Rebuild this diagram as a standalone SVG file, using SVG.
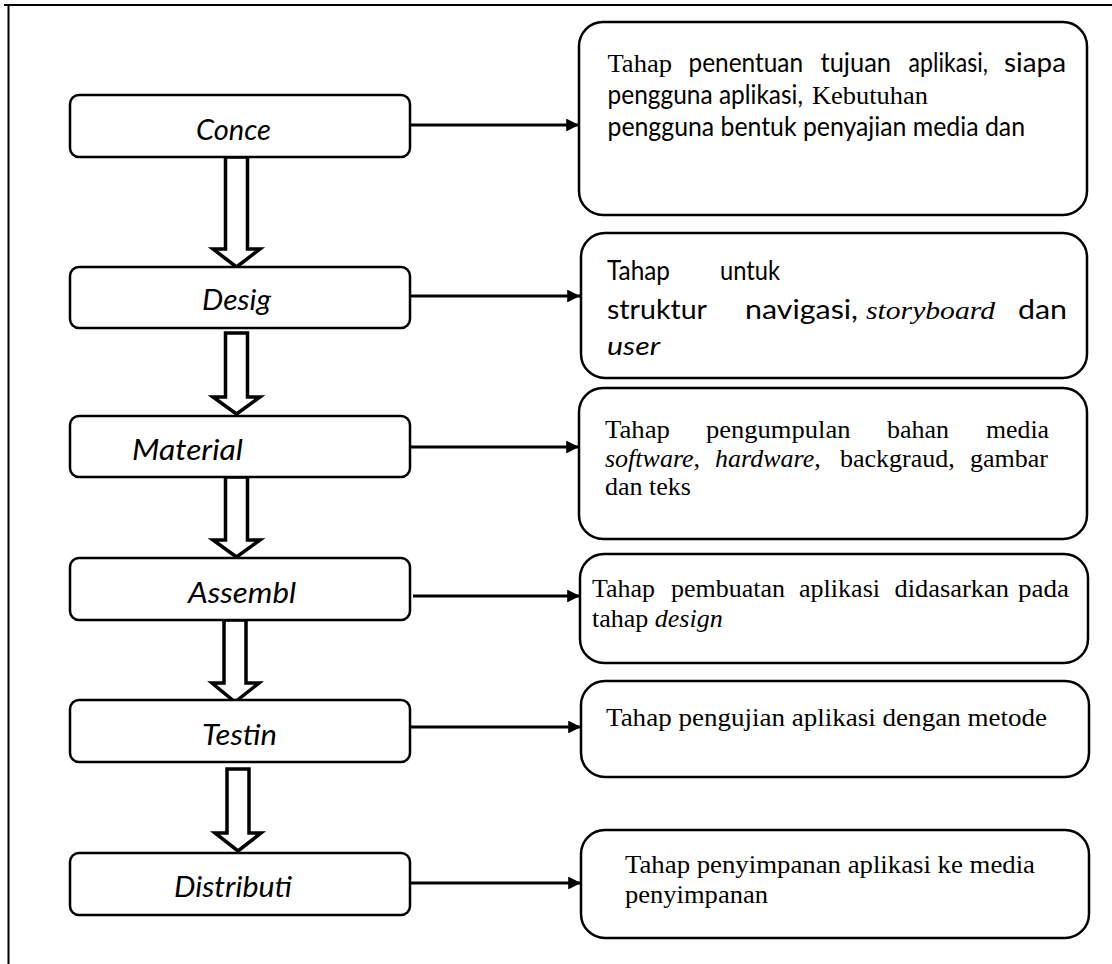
<svg xmlns="http://www.w3.org/2000/svg" width="1112" height="964" viewBox="0 0 1112 964">
<defs>
<style>
.frame{stroke:#000;stroke-width:2;fill:none}
.lbox{fill:#fff;stroke:#000;stroke-width:2.5}
.rbox{fill:#fff;stroke:#000;stroke-width:2.5}
.hollow{fill:#fff;stroke:#000;stroke-width:3.5;stroke-linejoin:miter}
.conn{stroke:#000;stroke-width:3.2;fill:none}
.lab{font-family:Lato,"Liberation Sans",sans-serif;font-style:italic;font-size:28px;fill:#000}
.sans{font-family:Lato,"Liberation Sans",sans-serif;font-size:26px;fill:#000}
.serif{font-family:"Liberation Serif","Times New Roman",serif;font-size:26px;fill:#000}
.it{font-style:italic}
</style>
<marker id="ah" viewBox="0 0 10 10" refX="10" refY="5" markerWidth="4" markerHeight="4" markerUnits="strokeWidth" orient="auto">
<path d="M0,0 L10,5 L0,10 z" fill="#000"/>
</marker>
</defs>
<rect width="1112" height="964" fill="#fff"/>
<g id="frame">
<line class="frame" x1="4" y1="5" x2="1112" y2="5"/>
<line class="frame" x1="8.5" y1="5" x2="8.5" y2="964"/>
</g>
<g id="connectors">
<line class="conn" x1="411" y1="125" x2="579" y2="125" marker-end="url(#ah)"/>
<line class="conn" x1="409" y1="296" x2="580" y2="296" marker-end="url(#ah)"/>
<line class="conn" x1="411" y1="447" x2="579" y2="447" marker-end="url(#ah)"/>
<line class="conn" x1="413" y1="596" x2="580" y2="596" marker-end="url(#ah)"/>
<line class="conn" x1="411" y1="727" x2="581" y2="727" marker-end="url(#ah)"/>
<line class="conn" x1="411" y1="883" x2="581" y2="883" marker-end="url(#ah)"/>
<polygon class="hollow" points="225.5,157 247.5,157 247.5,249 260,249 236.5,267 213,249 225.5,249"/>
<polygon class="hollow" points="225.5,333 247.5,333 247.5,397 260,397 236.5,414 213,397 225.5,397"/>
<polygon class="hollow" points="225.5,477 247.5,477 247.5,540 260,540 236.5,557 213,540 225.5,540"/>
<polygon class="hollow" points="224,620 246,620 246,683 259,683 235,702 212,683 224,683"/>
<polygon class="hollow" points="227,769 249,769 249,833 261,833 238,851 215,833 227,833"/>
</g>
<g id="n-concept">
<rect class="lbox" x="70" y="95" width="340" height="62" rx="9"/>
<text class="lab" x="196" y="140" textLength="75" lengthAdjust="spacingAndGlyphs">Conce</text>
</g>
<g id="n-design">
<rect class="lbox" x="70" y="267" width="340" height="61" rx="9"/>
<text class="lab" x="202" y="310" textLength="69" lengthAdjust="spacingAndGlyphs">Desig</text>
</g>
<g id="n-material">
<rect class="lbox" x="70" y="416" width="340" height="61" rx="9"/>
<text class="lab" x="132" y="460" textLength="111" lengthAdjust="spacingAndGlyphs">Material</text>
</g>
<g id="n-assembly">
<rect class="lbox" x="70" y="558" width="340" height="62" rx="9"/>
<text class="lab" x="188" y="603" textLength="108" lengthAdjust="spacingAndGlyphs">Assembl</text>
</g>
<g id="n-testing">
<rect class="lbox" x="70" y="700" width="340" height="62" rx="9"/>
<text class="lab" x="202" y="745" textLength="75" lengthAdjust="spacingAndGlyphs">Testin</text>
</g>
<g id="n-distribution">
<rect class="lbox" x="70" y="853" width="340" height="62" rx="9"/>
<text class="lab" x="174" y="897" textLength="118" lengthAdjust="spacingAndGlyphs">Distributi</text>
</g>
<g id="d-concept">
<rect class="rbox" x="579" y="22" width="508" height="193" rx="24"/>
<text class="serif" x="607.5" y="72" textLength="64.5" lengthAdjust="spacingAndGlyphs">Tahap</text>
<text class="sans" x="688.5" y="72" textLength="114.5" lengthAdjust="spacingAndGlyphs">penentuan</text>
<text class="sans" x="820.5" y="72" textLength="70.5" lengthAdjust="spacingAndGlyphs">tujuan</text>
<text class="sans" x="908.6" y="72" textLength="79.4" lengthAdjust="spacingAndGlyphs">aplikasi,</text>
<text class="sans" x="1004" y="72" textLength="62" lengthAdjust="spacingAndGlyphs">siapa</text>
<text class="sans" x="607.5" y="104" textLength="195.5" lengthAdjust="spacingAndGlyphs">pengguna aplikasi,</text>
<text class="serif" x="812" y="104" textLength="116" lengthAdjust="spacingAndGlyphs">Kebutuhan</text>
<text class="sans" x="607.5" y="136" textLength="417.5" lengthAdjust="spacingAndGlyphs">pengguna bentuk penyajian media dan</text>
</g>
<g id="d-design">
<rect class="rbox" x="581" y="233" width="506" height="145" rx="24"/>
<text class="sans" x="607" y="280" textLength="63" lengthAdjust="spacingAndGlyphs">Tahap</text>
<text class="sans" x="720" y="280" textLength="60" lengthAdjust="spacingAndGlyphs">untuk</text>
<text class="sans" x="607" y="319" font-size="31" textLength="100" lengthAdjust="spacingAndGlyphs">struktur</text>
<text class="sans" x="745" y="319" font-size="31" textLength="113" lengthAdjust="spacingAndGlyphs">navigasi,</text>
<text class="serif it" x="866" y="319" textLength="129" lengthAdjust="spacingAndGlyphs">storyboard</text>
<text class="sans" x="1018" y="319" font-size="31" textLength="49" lengthAdjust="spacingAndGlyphs">dan</text>
<text class="sans it" x="607" y="355" font-size="31" textLength="53" lengthAdjust="spacingAndGlyphs">user</text>
</g>
<g id="d-material">
<rect class="rbox" x="579" y="388" width="508" height="151" rx="24"/>
<text class="serif" x="605" y="438" textLength="65" lengthAdjust="spacingAndGlyphs">Tahap</text>
<text class="serif" x="706" y="438" textLength="144.5" lengthAdjust="spacingAndGlyphs">pengumpulan</text>
<text class="serif" x="887" y="438" textLength="62" lengthAdjust="spacingAndGlyphs">bahan</text>
<text class="serif" x="986" y="438" textLength="63" lengthAdjust="spacingAndGlyphs">media</text>
<text class="serif" y="467"><tspan x="605" class="it">software</tspan><tspan>,</tspan><tspan x="715" class="it">hardware</tspan><tspan>,</tspan><tspan x="840">backgraud,</tspan><tspan x="970">gambar</tspan></text>
<text class="serif" x="605" y="495" textLength="86" lengthAdjust="spacingAndGlyphs">dan teks</text>
</g>
<g id="d-assembly">
<rect class="rbox" x="580" y="554" width="508" height="109" rx="24"/>
<text class="serif" x="592" y="597" textLength="63" lengthAdjust="spacingAndGlyphs">Tahap</text>
<text class="serif" x="671" y="597" textLength="114" lengthAdjust="spacingAndGlyphs">pembuatan</text>
<text class="serif" x="799" y="597" textLength="81" lengthAdjust="spacingAndGlyphs">aplikasi</text>
<text class="serif" x="894.5" y="597" textLength="114.5" lengthAdjust="spacingAndGlyphs">didasarkan</text>
<text class="serif" x="1018" y="597" textLength="51" lengthAdjust="spacingAndGlyphs">pada</text>
<text class="serif" x="592" y="627">tahap <tspan class="it">design</tspan></text>
</g>
<g id="d-testing">
<rect class="rbox" x="581" y="681" width="508" height="96" rx="24"/>
<text class="serif" x="606" y="726" textLength="441" lengthAdjust="spacingAndGlyphs">Tahap pengujian aplikasi dengan  metode</text>
</g>
<g id="d-distribution">
<rect class="rbox" x="581" y="830" width="508" height="108" rx="24"/>
<text class="serif" x="625" y="873" textLength="410" lengthAdjust="spacingAndGlyphs">Tahap penyimpanan aplikasi ke media</text>
<text class="serif" x="625" y="903" textLength="143" lengthAdjust="spacingAndGlyphs">penyimpanan</text>
</g>
</svg>
